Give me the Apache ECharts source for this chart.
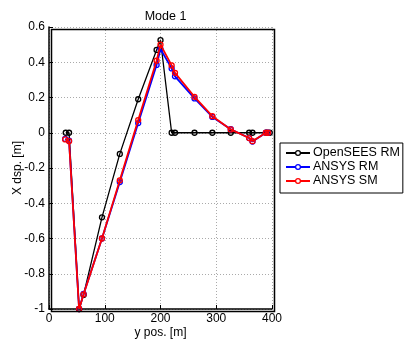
<!DOCTYPE html>
<html><head><meta charset="utf-8">
<script src="https://cdn.jsdelivr.net/npm/echarts@6/dist/echarts.min.js"></script>
<style>html,body{margin:0;padding:0;background:#fff}#c{width:404px;height:350px}</style>
</head><body><div id="c"></div>
<script>
const title = 'Mode 1';
const xName = 'y pos. [m]';
const yName = 'X dsp. [m]';
const seriesNames = ['OpenSEES RM', 'ANSYS RM', 'ANSYS SM'];
const colors = ['#000000', '#0000ff', '#ff0000'];
const xTicks = [0, 100, 200, 300, 400];
const yTicks = [-1, -0.8, -0.6, -0.4, -0.2, 0, 0.2, 0.4, 0.6];

const openseesPos = [30, 36, 54, 62, 95, 127, 160, 193, 200, 220, 226, 261, 293, 326, 359, 365, 390, 396];
const openseesDsp = [0, 0, -1, -0.92, -0.48, -0.12, 0.19, 0.47, 0.525, 0, 0, 0, 0, 0, 0, 0, 0, 0];

const ansysRMPos = [29, 36, 54, 62, 95, 127, 160, 193, 200, 220, 226, 261, 293, 326, 359, 365, 389, 393];
const ansysRMDsp = [-0.035, -0.045, -1, -0.915, -0.6, -0.28, 0.055, 0.385, 0.475, 0.365, 0.32, 0.195, 0.09, 0.02, -0.03, -0.05, 0, 0];

const ansysSMPos = [29, 36, 54, 62, 95, 127, 160, 193, 200, 220, 226, 261, 293, 326, 359, 365, 389, 393];
const ansysSMDsp = [-0.038, -0.048, -1, -0.917, -0.6, -0.27, 0.072, 0.409, 0.5, 0.382, 0.34, 0.204, 0.094, 0.019, -0.03, -0.048, 0, 0];

const allPos = [openseesPos, ansysRMPos, ansysSMPos];
const allDsp = [openseesDsp, ansysRMDsp, ansysSMDsp];

const font = 'Liberation Sans, Arial, sans-serif';
const chart = echarts.init(document.getElementById('c'), null, {renderer: 'canvas'});
const grid = {left: 49, right: 132, top: 27, bottom: 41, containLabel: false, outerBoundsMode: 'none'};

const series = seriesNames.map((n, i) => ({
  name: n,
  type: 'line',
  data: allPos[i].map((x, j) => [x, allDsp[i][j]]),
  symbol: 'circle',
  symbolSize: 5,
  showAllSymbol: true,
  lineStyle: {color: colors[i], width: i === 0 ? 1.3 : 1.8},
  itemStyle: {color: 'rgba(255,255,255,0)', borderColor: colors[i], borderWidth: 1.3},
  emphasis: {disabled: true},
  z: 2 + i
}));

chart.setOption({
  animation: false,
  title: {text: title, left: 160.5, textAlign: 'center', top: 5,
    textStyle: {fontFamily: font, fontSize: 12.5, fontWeight: 'normal', color: '#000'}},
  grid: grid,
  legend: {
    orient: 'vertical', left: 280, top: 143,
    data: seriesNames.map((n, i) => ({name: n, itemStyle: {color: '#fff', borderColor: colors[i], borderWidth: 1.3}})),
    itemWidth: 24, itemHeight: 6, itemGap: 0,
    padding: [3, 3, 5, 5],
    borderColor: '#000', borderWidth: 1,
    textStyle: {fontFamily: font, fontSize: 12.5, color: '#000', padding: [0, 0, 0, -2], lineHeight: 14}
  },
  xAxis: {
    type: 'value', min: 0, max: 400, interval: 100,
    name: xName, nameLocation: 'middle', nameGap: 18, nameMoveOverlap: false,
    nameTextStyle: {fontFamily: font, fontSize: 12, color: '#000'},
    axisLine: {show: true, onZero: false, lineStyle: {color: '#000', width: 1.5}},
    axisTick: {show: true, inside: true, length: 4, lineStyle: {color: '#000'}},
    axisLabel: {fontFamily: font, fontSize: 12, color: '#000', margin: 4, formatter: v => xTicks.includes(v) ? String(v) : ''},
    splitLine: {show: true, lineStyle: {color: '#aaa', type: [1, 2], width: 1}}
  },
  yAxis: {
    type: 'value', min: -1, max: 0.6, interval: 0.2,
    name: yName, nameLocation: 'middle', nameGap: 25, nameMoveOverlap: false,
    nameTextStyle: {fontFamily: font, fontSize: 12, color: '#000'},
    axisLine: {show: true, onZero: false, lineStyle: {color: '#000', width: 1.5}},
    axisTick: {show: true, inside: true, length: 4, lineStyle: {color: '#000'}},
    axisLabel: {fontFamily: font, fontSize: 12, color: '#000', margin: 4,
      formatter: v => { const r = Math.round(v * 10) / 10; return yTicks.includes(r) ? String(r) : ''; }},
    splitLine: {show: true, lineStyle: {color: '#aaa', type: [1, 2], width: 1}}
  },
  graphic: [{
    type: 'rect', left: grid.left, top: grid.top,
    shape: {width: 404 - grid.left - grid.right, height: 350 - grid.top - grid.bottom},
    style: {fill: 'none', stroke: '#000', lineWidth: 1.5}, z: 10, silent: true
  }],
  series: series
});
</script></body></html>
